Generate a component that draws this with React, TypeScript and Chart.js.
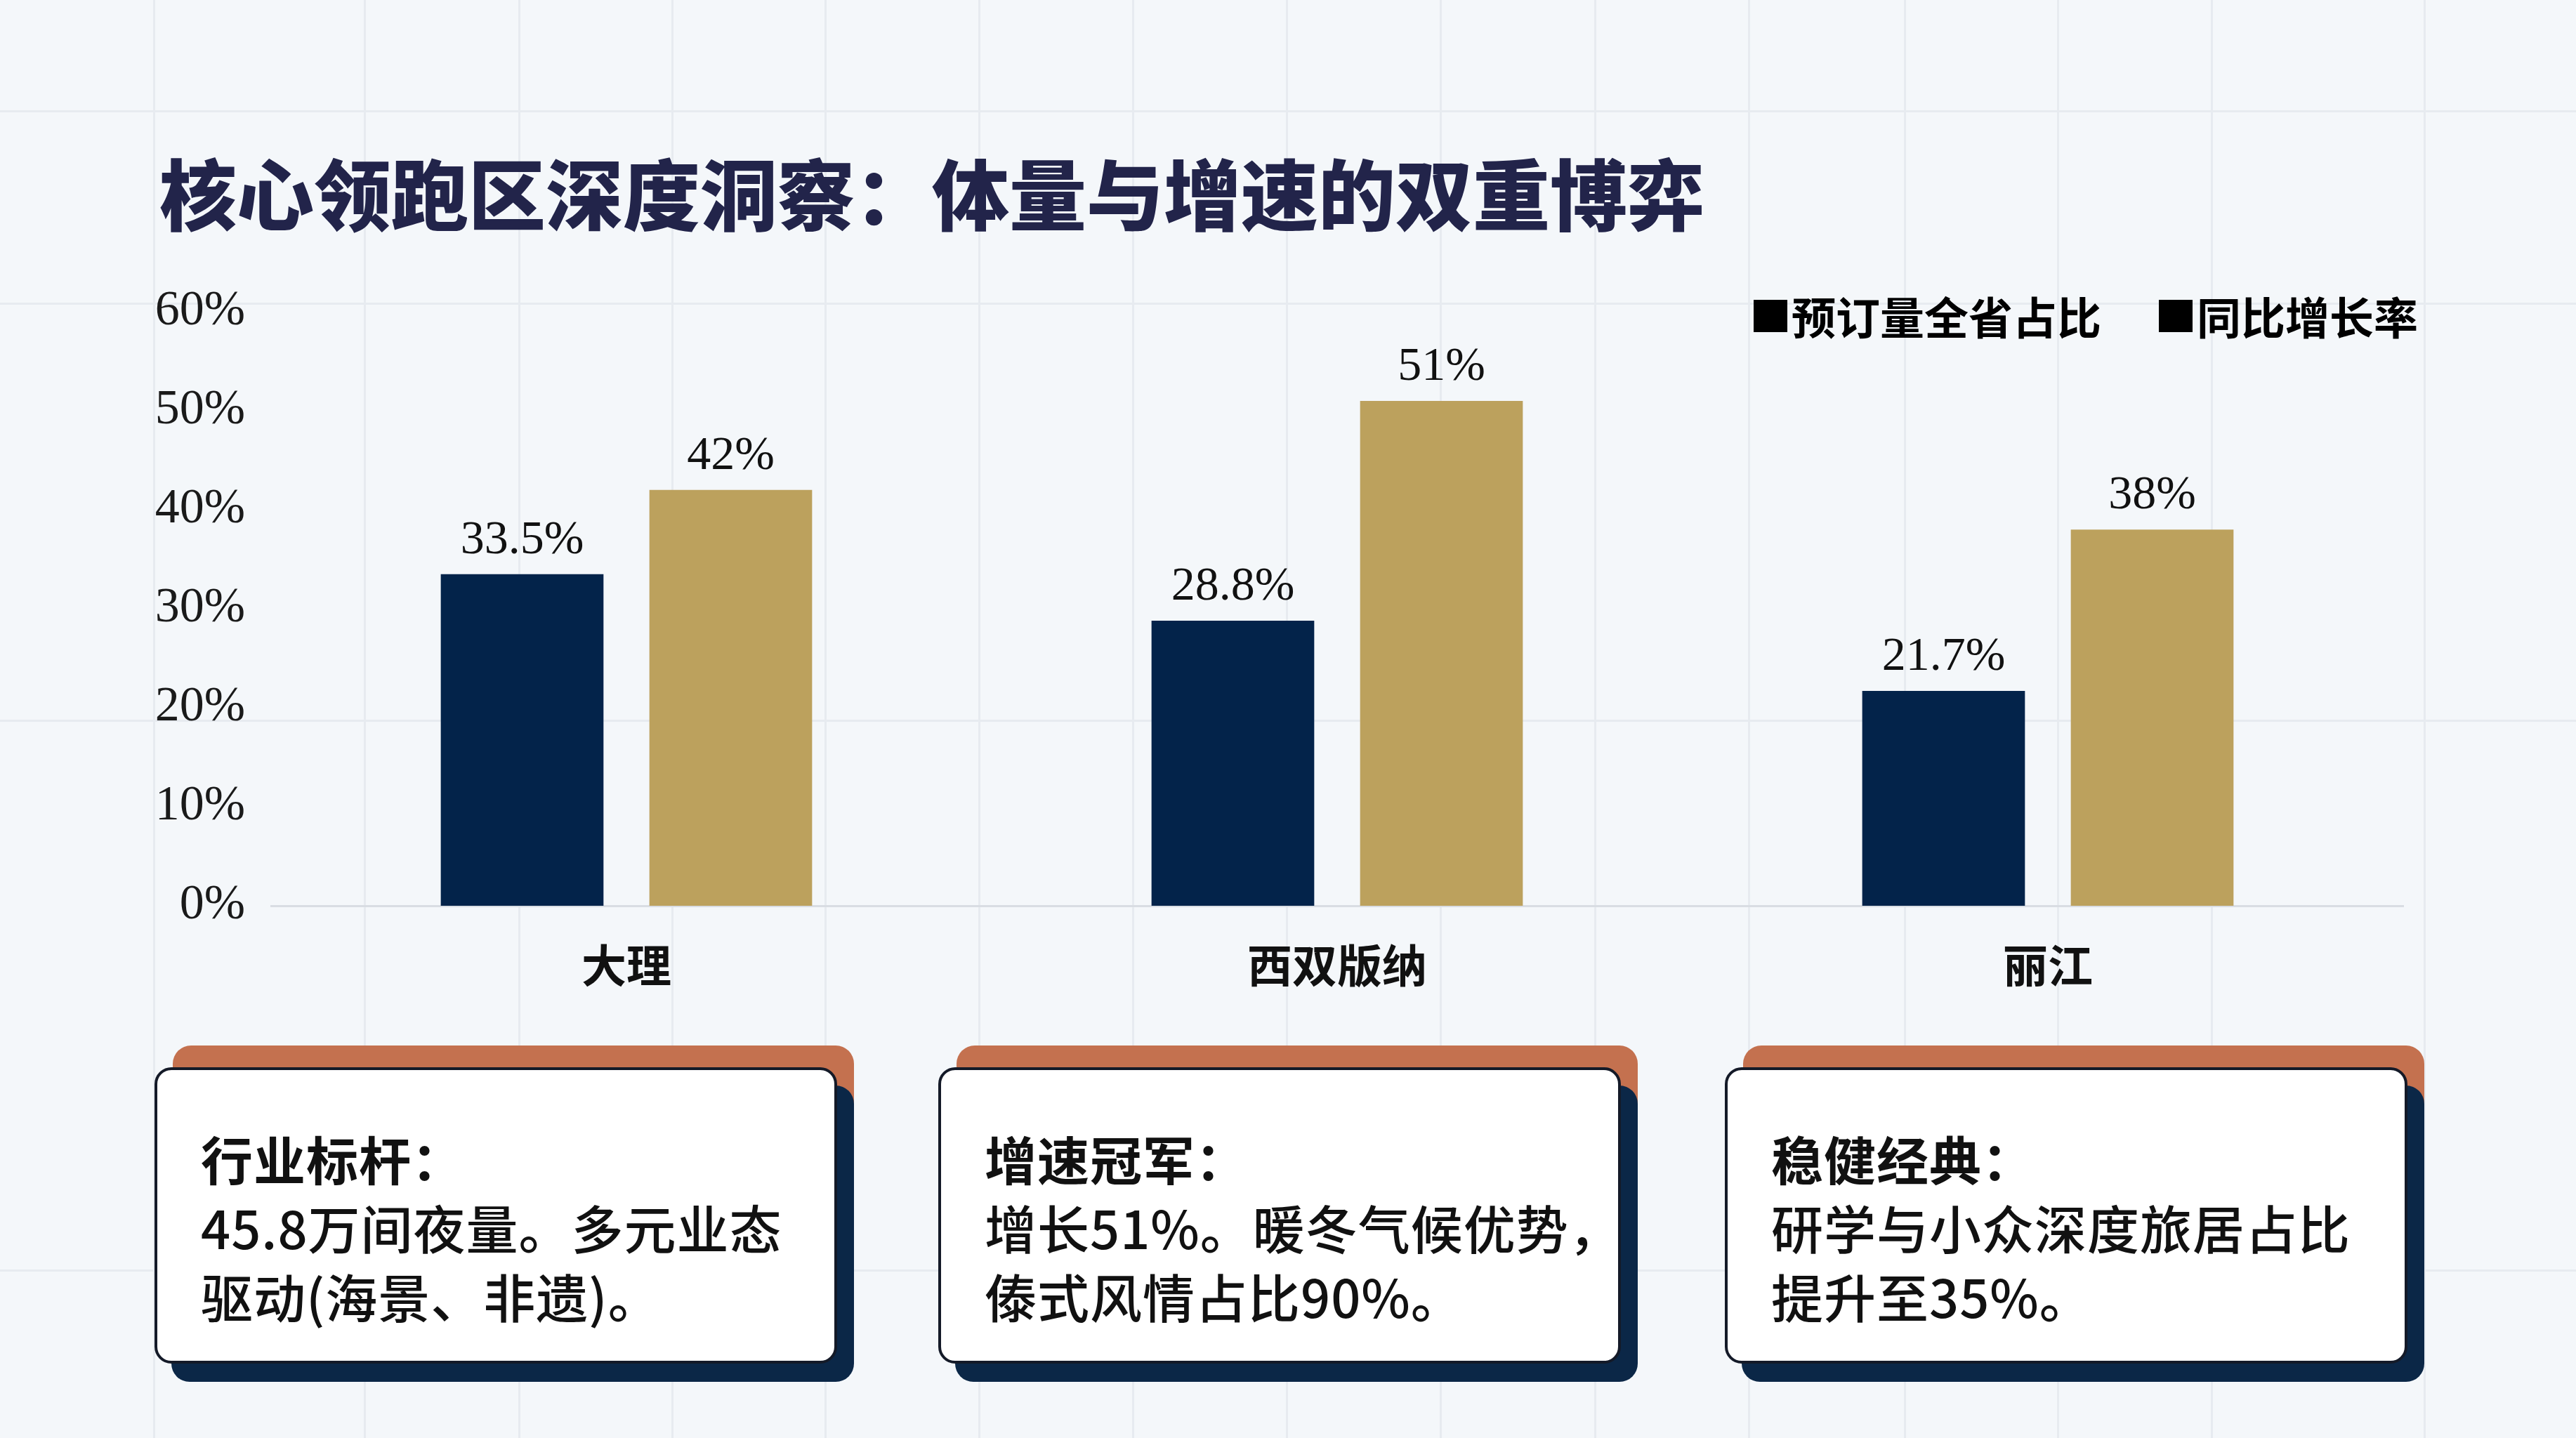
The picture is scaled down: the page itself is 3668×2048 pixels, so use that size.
import React, { useEffect, useRef } from 'react';
import { Chart, registerables } from 'chart.js';

Chart.register(...registerables);

// ---- data ----
const categories = ['大理', '西双版纳', '丽江'];
const shareValues = [33.5, 28.8, 21.7];
const growthValues = [42, 51, 38];
const seriesNames = ['预订量全省占比', '同比增长率'];
const seriesColors = ['#03234a', '#bca15d'];
const yMin = 0;
const yMax = 60;
const yStep = 10;
const titleText = '核心领跑区深度洞察：体量与增速的双重博弈';
const cardHeads = ['行业标杆：', '增速冠军：', '稳健经典：'];
const cardBodies = [
  ['45.8万间夜量。多元业态', '驱动(海景、非遗)。'],
  ['增长51%。暖冬气候优势，', '傣式风情占比90%。'],
  ['研学与小众深度旅居占比', '提升至35%。'],
];

// ---- decoration (background paper grid) ----
const bgVLines = [218, 518, 738, 956, 1174, 1393, 1612, 1831, 2050, 2270, 2489, 2711, 2929, 3148, 3451];
const bgHLines = [157, 431, 1025, 1808];
const cardLefts = [220, 1336, 2456];
const CARD_W = 972;

const CJK = '"Noto Sans CJK SC", "Noto Sans", sans-serif';
const SERIF = '"Liberation Serif", "DejaVu Serif", serif';

const valueLabelPlugin = {
  id: 'valueLabels',
  afterDatasetsDraw(chart: any) {
    const { ctx } = chart;
    ctx.save();
    ctx.font = `68px ${SERIF}`;
    ctx.fillStyle = '#111111';
    ctx.textAlign = 'center';
    ctx.textBaseline = 'alphabetic';
    chart.data.datasets.forEach((ds: any, i: number) => {
      const meta = chart.getDatasetMeta(i);
      meta.data.forEach((bar: any, j: number) => {
        ctx.fillText(`${ds.data[j]}%`, bar.x, bar.y - 30);
      });
    });
    ctx.restore();
  },
};

const customLegendPlugin = {
  id: 'customLegend',
  afterDraw(chart: any) {
    const { ctx, chartArea } = chart;
    ctx.save();
    ctx.font = `700 63px ${CJK}`;
    ctx.textBaseline = 'middle';
    ctx.textAlign = 'left';
    const box = 48;
    const boxGap = 6;
    const itemGap = 82;
    const names = chart.data.datasets.map((d: any) => d.label);
    const widths = names.map((n: string) => box + boxGap + ctx.measureText(n).width);
    const total = widths.reduce((a: number, b: number) => a + b, 0) + itemGap * (names.length - 1);
    let x = chartArea.right + 21 - total;
    const yc = chartArea.top + 6;
    names.forEach((n: string, i: number) => {
      ctx.fillStyle = '#000000';
      ctx.fillRect(x, yc - 23, box, 46);
      ctx.fillText(n, x + box + boxGap, yc + 2);
      x += widths[i] + itemGap;
    });
    ctx.restore();
  },
};

function BarChart() {
  const ref = useRef<HTMLCanvasElement | null>(null);
  useEffect(() => {
    if (!ref.current) return;
    const chart = new Chart(ref.current, {
      type: 'bar',
      data: {
        labels: categories,
        datasets: [
          {
            label: seriesNames[0],
            data: shareValues,
            backgroundColor: seriesColors[0],
            categoryPercentage: 0.587,
            barPercentage: 0.78,
          },
          {
            label: seriesNames[1],
            data: growthValues,
            backgroundColor: seriesColors[1],
            categoryPercentage: 0.587,
            barPercentage: 0.78,
          },
        ],
      },
      options: {
        animation: false,
        responsive: false,
        devicePixelRatio: 1,
        layout: { padding: { top: 444, left: 200, right: 246, bottom: 0 } },
        plugins: {
          legend: { display: false },
          tooltip: { enabled: false },
          title: { display: false },
        },
        scales: {
          x: {
            grid: { display: false, drawTicks: false },
            border: { display: true, color: '#d9dde3', width: 3 },
            ticks: {
              padding: 46,
              color: '#111111',
              font: { family: CJK, size: 64, weight: 'bold' },
            },
            afterFit: (scale: any) => {
              scale.height = 190;
            },
          },
          y: {
            min: yMin,
            max: yMax,
            grid: { display: false, drawTicks: false },
            border: { display: false },
            ticks: {
              stepSize: yStep,
              padding: 37,
              color: '#1a1a1a',
              font: { family: SERIF, size: 70 },
              callback: (v: any) => `${v}%`,
            },
            afterFit: (scale: any) => {
              scale.width = 186;
            },
          },
        },
      },
      plugins: [valueLabelPlugin, customLegendPlugin],
    });
    return () => chart.destroy();
  }, []);
  return (
    <canvas
      ref={ref}
      width={3668}
      height={1480}
      style={{ position: 'absolute', left: 0, top: 0, width: 3668, height: 1480 }}
    />
  );
}

function Card({ left, head, body }: { left: number; head: string; body: string[] }) {
  return (
    <div style={{ position: 'absolute', left, top: 1489, width: CARD_W + 30, height: 490 }}>
      <div
        style={{
          position: 'absolute',
          left: 26,
          top: 0,
          width: CARD_W - 2,
          height: 140,
          borderRadius: 26,
          background: '#c4714f',
        }}
      />
      <div
        style={{
          position: 'absolute',
          left: 24,
          top: 57,
          width: CARD_W,
          height: 422,
          borderRadius: 26,
          background: '#0b2747',
        }}
      />
      <div
        style={{
          position: 'absolute',
          left: 0,
          top: 31,
          width: CARD_W,
          height: 422,
          borderRadius: 24,
          background: '#ffffff',
          border: '4px solid #141a28',
          boxSizing: 'border-box',
          paddingLeft: 62,
          paddingTop: 76,
          fontFamily: CJK,
          color: '#111111',
          fontSize: 74,
          lineHeight: '98px',
          letterSpacing: 1,
        }}
      >
        <div style={{ fontWeight: 700, whiteSpace: 'nowrap' }}>{head}</div>
        {body.map((line, i) => (
          <div key={i} style={{ fontWeight: 500, whiteSpace: 'nowrap' }}>
            {line}
          </div>
        ))}
      </div>
    </div>
  );
}

export default function App() {
  return (
    <div
      style={{
        position: 'fixed',
        left: 0,
        top: 0,
        width: 3668,
        height: 2048,
        overflow: 'hidden',
        background: '#f4f7fa',
      }}
    >
      {bgVLines.map((x, i) => (
        <div
          key={`v${i}`}
          style={{ position: 'absolute', left: x, top: 0, width: 3, height: 2048, background: '#e7ebf0' }}
        />
      ))}
      {bgHLines.map((y, i) => (
        <div
          key={`h${i}`}
          style={{ position: 'absolute', left: 0, top: y, width: 3668, height: 3, background: '#e7ebf0' }}
        />
      ))}
      <div
        style={{
          position: 'absolute',
          left: 227,
          top: 217,
          fontFamily: CJK,
          fontWeight: 900,
          fontSize: 110,
          lineHeight: '110px',
          color: '#22244a',
          whiteSpace: 'nowrap',
        }}
      >
        {titleText}
      </div>
      <BarChart />
      {cardLefts.map((l, i) => (
        <Card key={i} left={l} head={cardHeads[i]} body={cardBodies[i]} />
      ))}
    </div>
  );
}
